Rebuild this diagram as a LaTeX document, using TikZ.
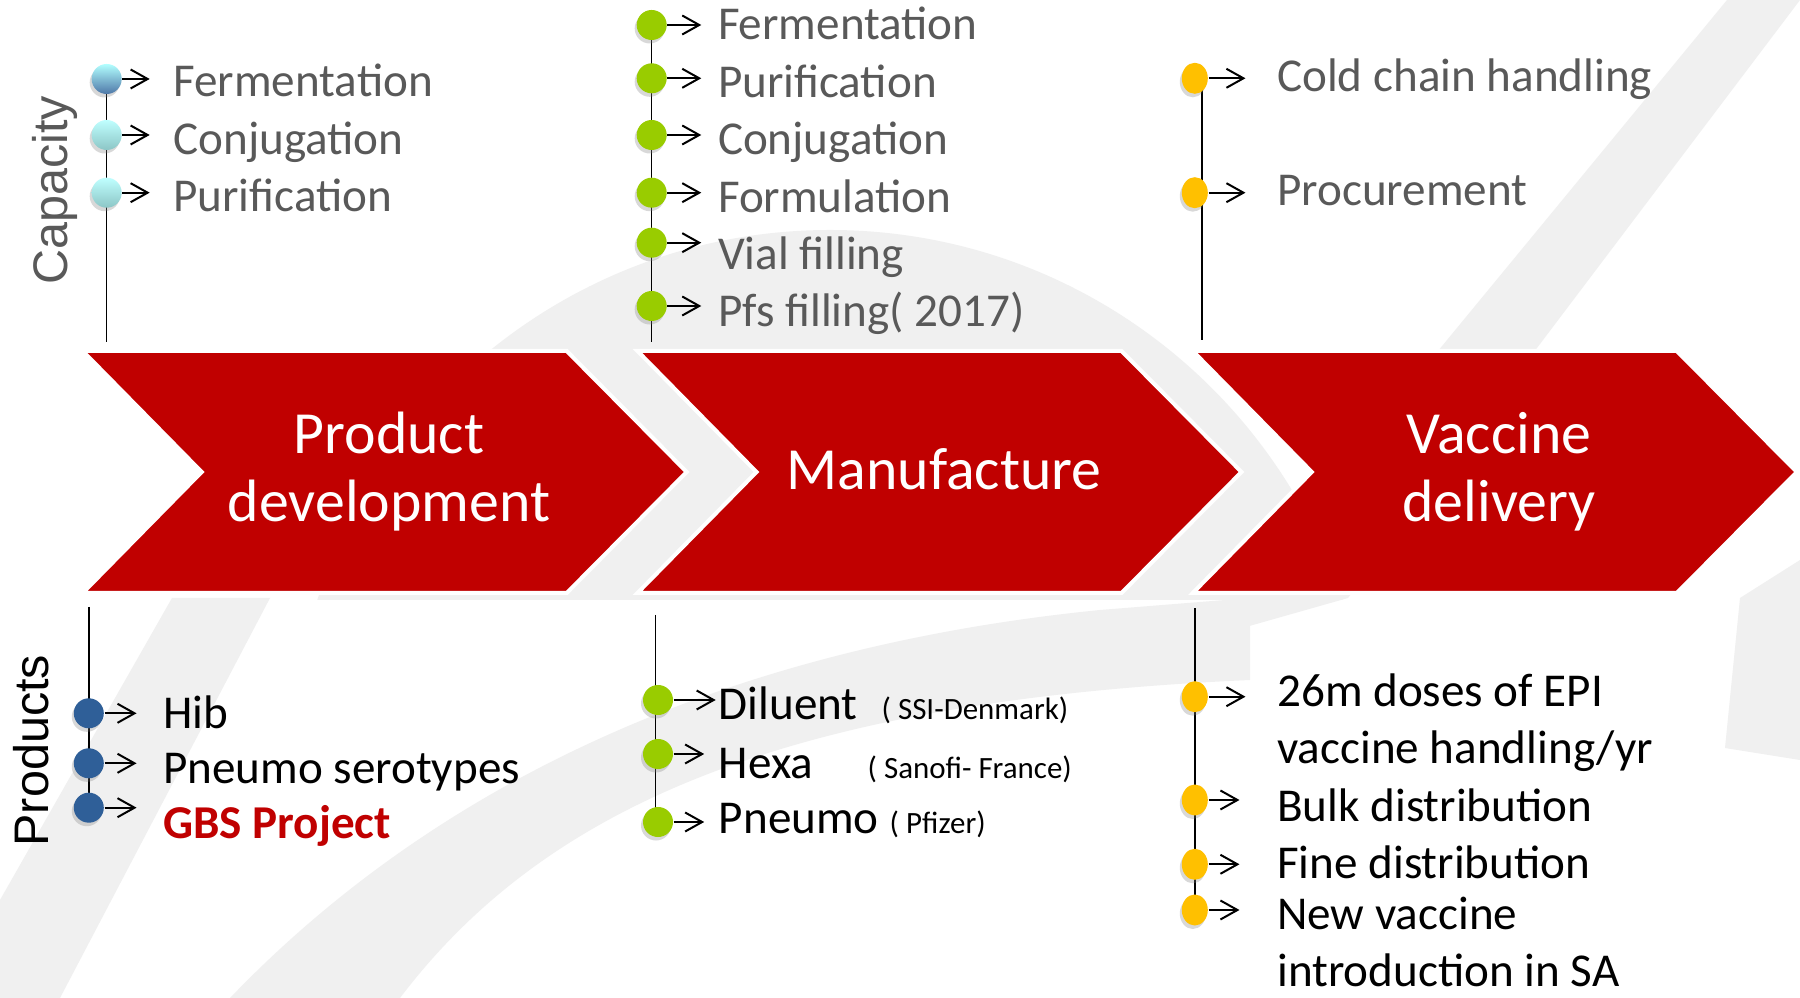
\documentclass[tikz,border=0pt]{standalone}
\usepackage{fontspec}
\setmainfont{Carlito}
\newfontfamily\sidefont{Liberation Sans}
\usetikzlibrary{arrows.meta,shadows,shapes.geometric}

\definecolor{stagered}{HTML}{C00000}
\definecolor{capgray}{HTML}{595959}
\definecolor{dotlime}{HTML}{99CC00}
\definecolor{dotamber}{HTML}{FFC000}
\definecolor{dotnavy}{HTML}{2F5F98}
\definecolor{wmgray}{HTML}{F0F0F0}

\tikzset{
  stagebox/.style={fill=stagered, draw=white, line width=0.4mm},
  stage/.style={text=white, align=center, inner sep=0pt, font=\fontsize{17}{19.3}\selectfont},
  stem/.style={line width=0.15mm},
  arr/.style={-{Straight Barb[length=1.7mm,width=1.9mm]}, line width=0.2mm},
  dot/.style={circle, inner sep=0pt, minimum size=3mm,
    drop shadow={shadow xshift=-0.2mm, shadow yshift=-0.35mm, opacity=0.3}},
  dotdeep/.style={dot, top color=cyan!30!white, bottom color=dotnavy!85!white},
  dotsky/.style={dot, top color=cyan!25!white, bottom color=teal!45!white},
  dotgreen/.style={dot, fill=dotlime},
  dotblue/.style={dot, fill=dotnavy},
  dotgold/.style={dot, ellipse, minimum width=2.6mm, minimum height=3.1mm, fill=dotamber},
  item/.style={anchor=base west, inner sep=0pt, font=\fontsize{13.4}{16.1}\selectfont},
  capitem/.style={item, text=capgray},
  gbs/.style={item, text=stagered, font=\fontsize{13.4}{16.1}\selectfont\bfseries},
  note/.style={anchor=base west, inner sep=0pt, font=\fontsize{8.8}{10.6}\selectfont},
  side/.style={rotate=90, inner sep=0pt, font=\sidefont\fontsize{13.8}{16}\selectfont}
}

\begin{document}
\begin{tikzpicture}[x=0.01cm,y=-0.01cm]
  \useasboundingbox (0,0) rectangle (1800,998);
  \fill[white] (0,0) rectangle (1800,998);
  % watermark
  \begin{scope}
    \clip (0,0) rectangle (1800,600);
    \fill[wmgray] (830,770) circle[radius=540];
  \end{scope}
  \fill[wmgray] (1727,0) -- (1800,0) -- (1348,598) -- (1200,640) -- cycle;
  \fill[wmgray] (230,998) .. controls (420,800) and (700,650) .. (1100,610)
    -- (1250,598) -- (1250,680) .. controls (800,700) and (550,800) .. (400,998) -- cycle;
  \fill[wmgray] (172,598) -- (270,598) -- (60,998) -- (0,998) -- (0,900) -- cycle;
  \fill[wmgray] (1740,598) -- (1800,560) -- (1800,760) -- (1725,748) -- cycle;

  % stages
  \foreach \x in {82.7,637.5,1192.8}
    \draw[stagebox] (\x,351) -- ++(484,0) -- ++(120,121) -- ++(-120,121)
      -- ++(-484,0) -- ++(119,-121) -- cycle;
  \node[stage] (stage1) at (389,472) {Product\\development};
  \node[stage, anchor=base] (stage2) at (944,490) {Manufacture};
  \node[stage] (stage3) at (1499,472) {Vaccine\\delivery};

  \node[side, text=capgray] (capacity) at (55,190.5) {Capacity};
  \node[side] (products) at (31.6,750.7) {Products};

  % capacity, product development
  \coordinate (k1top) at (106.7,79);
  \coordinate (k1end) at (106.7,341.7);
  \draw[stem] (k1top) -- (k1end);
  \foreach \i/\y/\b/\s/\txt in {a/79/96.7/dotdeep/Fermentation,
      b/135/154.3/dotsky/Conjugation, c/192.7/211.7/dotsky/Purification}{
    \node[\s] (k1\i) at (106.7,\y) {};
    \node[capitem] (c1\i) at (172.7,\b) {\txt};
    \draw[arr, shorten >=2.3mm] (k1\i) -- (k1\i -| c1\i.west);
  }

  % capacity, manufacture
  \coordinate (k2top) at (651.7,25);
  \coordinate (k2end) at (651.7,341.7);
  \draw[stem] (k2top) -- (k2end);
  \foreach \i/\y/\b/\txt in {a/25/40/Fermentation, b/78.3/97.3/Purification,
      c/135/155/Conjugation, d/192.7/212.3/Formulation, e/242.7/269.3/Vial filling,
      f/306/326.7/Pfs filling( 2017)}{
    \node[dotgreen] (k2\i) at (651.7,\y) {};
    \node[capitem] (c2\i) at (717.3,\b) {\txt};
    \draw[arr, shorten >=1.6mm] (k2\i) -- (k2\i -| c2\i.west);
  }

  % capacity, vaccine delivery
  \coordinate (k3top) at (1201.8,78.3);
  \coordinate (k3end) at (1201.8,340);
  \draw[stem] (k3top) -- (k3end);
  \foreach \i/\y/\b/\txt in {a/78.3/91.7/Cold chain handling, b/192.7/206/Procurement}{
    \node[dotgold] (k3\i) at (1194.8,\y) {};
    \node[capitem] (c3\i) at (1276.5,\b) {\txt};
    \draw[arr, shorten >=3.1mm] (k3\i) -- (k3\i -| c3\i.west);
  }

  % products, product development
  \coordinate (p1top) at (88.8,607);
  \coordinate (p1end) at (88.8,807.7);
  \draw[stem] (p1top) -- (p1end);
  \foreach \i/\y/\b/\s/\txt in {a/713.3/728.3/item/Hib,
      b/763.3/784/item/Pneumo serotypes, c/807.7/838.3/gbs/GBS Project}{
    \node[dotblue] (p1\i) at (88.8,\y) {};
    \node[\s] (t1\i) at (162.6,\b) {\txt};
    \draw[arr, shorten >=2.6mm] (p1\i) -- (p1\i -| t1\i.west);
  }

  % products, manufacture
  \coordinate (p2top) at (655.7,615);
  \coordinate (p2end) at (655.7,822);
  \draw[stem] (p2top) -- (p2end);
  \foreach \i/\y/\b/\g/\txt/\nx/\org in {a/700/720/0.25mm/Diluent/881/( SSI-Denmark),
      b/754/778.3/1.4mm/Hexa/867/( Sanofi- France),
      c/822/833.3/1.4mm/Pneumo/889/( Pfizer)}{
    \node[dotgreen] (p2\i) at (658,\y) {};
    \node[item] (t2\i) at (718.2,\b) {\txt};
    \node[note] (n2\i) at (\nx,\b) {\org};
    \draw[arr, shorten >=\g] (p2\i) -- (p2\i -| t2\i.west);
  }

  % products, vaccine delivery (base of a two-line text is its last line)
  \coordinate (p3top) at (1194.8,608.3);
  \coordinate (p3end) at (1194.8,910);
  \draw[stem] (p3top) -- (p3end);
  \foreach \i/\y/\b/\g/\txt in {a/696.7/763.3/3.1mm/{26m doses of EPI\\vaccine handling/yr},
      b/800/821.7/3.7mm/Bulk distribution, c/864.3/878.3/3.7mm/Fine distribution,
      d/910/986/3.7mm/{New vaccine\\introduction in SA}}{
    \node[dotgold] (p3\i) at (1194.8,\y) {};
    \node[item, align=left] (t3\i) at (1276.5,\b) {\txt};
    \draw[arr, shorten >=\g] (p3\i) -- (p3\i -| t3\i.west);
  }
\end{tikzpicture}
\end{document}
